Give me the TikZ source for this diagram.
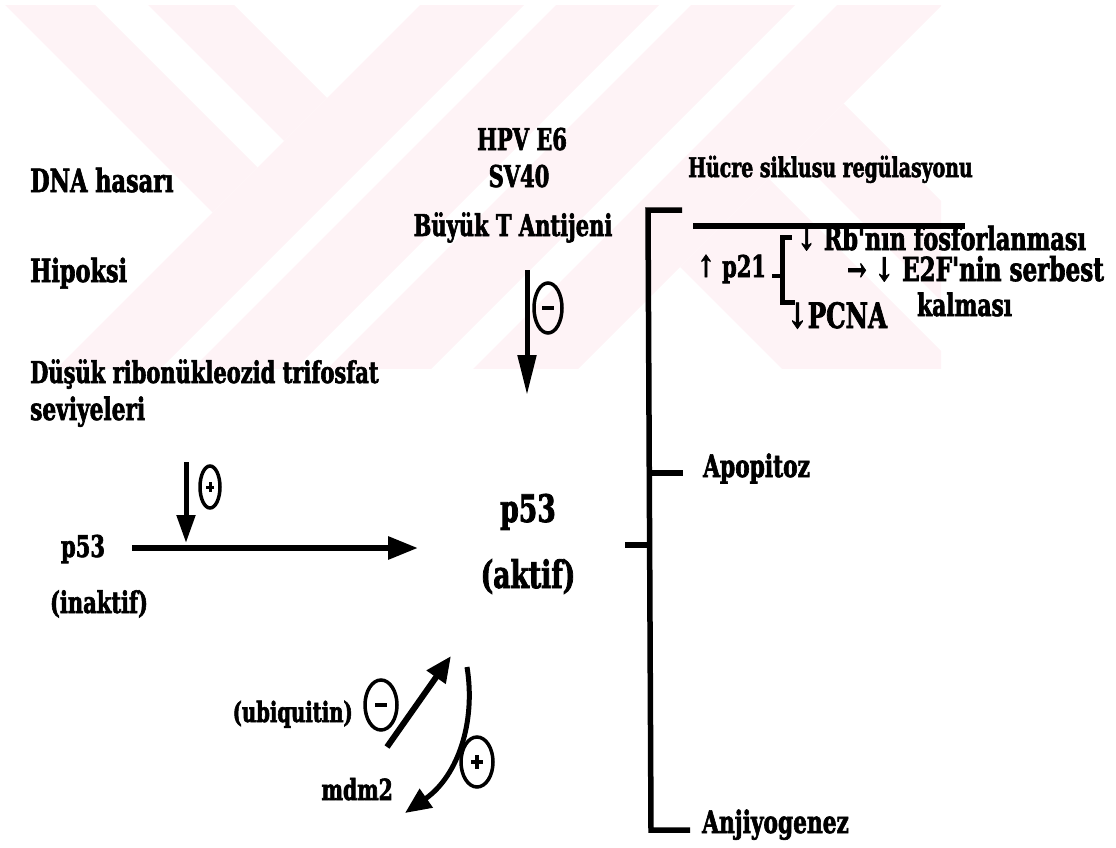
\documentclass[tikz,border=0pt]{standalone}
\usepackage{fontspec}
\setmainfont{DejaVu Serif}[FakeStretch=0.70, Ligatures=TeXOff, BoldFeatures={FakeBold=2}]
\usetikzlibrary{arrows.meta,shapes.geometric}
\definecolor{wm}{RGB}{254,243,246}
\newcommand\sz[1]{\fontsize{#1}{#1}\selectfont\bfseries}
\begin{document}
\begin{tikzpicture}[x=1pt,y=-1pt,
  lab/.style={inner sep=0pt, text=black},
  lw/.style={anchor=base west},
  lc/.style={anchor=base},
  le/.style={anchor=base east},
  sign/.style={draw, ellipse, line width=3.5pt, inner sep=0pt},
  bar/.style={line width=6pt},
  brk/.style={line width=5.5pt},
  arr/.style={line width=6pt, -{Triangle[length=30pt,width=22pt]}},
]
\useasboundingbox (0,0) rectangle (1116,848);
% watermark
\begin{scope}
\clip (0,6) rectangle (941,368);
\fill[wm] (-10,-10) -- (80,-10) -- (257.5,167.5) -- (212.5,212.5) -- cycle;
\fill[wm] (133,-10) -- (219,-10) -- (327,98) -- (284,141) -- cycle;
\foreach \a/\b in {425/529,561/664,696/800,842/947}{
  \fill[wm] (\a+10,-10) -- (\b+10,-10) -- (\b-400,400) -- (\a-400,400) -- cycle;}
\fill[wm] (680,267) -- (768.5,178.5) -- (990,400) -- (813,400) -- cycle;
\fill[wm] (793.5,153.5) -- (843.5,103.5) -- (1140,400) -- (1040,400) -- cycle;
\end{scope}
% left texts
\node[lab,lw,font=\sz{32}] (dna) at (30,192) {DNA hasarı};
\node[lab,lw,font=\sz{32}] (hip) at (30,282) {Hipoksi};
\node[lab,lw,font=\sz{30}] (dus) at (30,383) {Düşük ribonükleozid trifosfat};
\node[lab,lw,font=\sz{31}] (sev) at (30,420) {seviyeleri};
% top texts
\node[lab,lc,font=\sz{30}] (hpv) at (522,150) {HPV E6};
\node[lab,lc,font=\sz{30}] (sv) at (519,187) {SV40};
\node[lab,lc,font=\sz{30}] (buy) at (513,236) {Büyük T Antijeni};
\coordinate (m1s) at (527,270);
\coordinate (m1e) at (527,395);
\draw[line width=5pt, -{Triangle[length=40pt,width=18pt]}] (m1s) -- (m1e);
\node[sign, minimum width=28pt, minimum height=50pt] (neg1) at (548,308) {};
\draw[line width=4.5pt] ([xshift=-6pt]neg1.center) -- ([xshift=6pt]neg1.center);
% p53 conversion
\node[lab,lc,font=\sz{30}] (p53i) at (83,557) {p53};
\node[lab,lc,font=\sz{30}] (inak) at (99,613) {(inaktif)};
\node[lab,lc,font=\sz{38}] (p53a) at (528,522) {p53};
\node[lab,lc,font=\sz{38}] (akt) at (528,588) {(aktif)};
\coordinate (h1s) at (132,548);
\coordinate (h1e) at (418,548);
\draw[arr] (h1s) -- (h1e);
\coordinate (p1s) at (186,462);
\coordinate (p1e) at (186,543);
\draw[line width=5pt, -{Triangle[length=28pt,width=18pt]}] (p1s) -- (p1e);
\node[sign, minimum width=20pt, minimum height=42pt] (pos1) at (210,487) {};
\draw[line width=3pt] ([xshift=-4pt]pos1.center) -- ([xshift=4pt]pos1.center);
\draw[line width=3pt] ([yshift=-5pt]pos1.center) -- ([yshift=5pt]pos1.center);
% mdm2 loop
\node[lab,le,font=\sz{28}] (ubi) at (353,722) {(ubiquitin)};
\node[sign, minimum width=32pt, minimum height=50pt] (neg2) at (381,705) {};
\draw[line width=4.5pt] ([xshift=-6pt]neg2.center) -- ([xshift=6pt]neg2.center);
\coordinate (u1s) at (387,747);
\coordinate (u1e) at (451,656);
\draw[line width=6pt, -{Triangle[length=26pt,width=22pt]}] (u1s) -- (u1e);
\coordinate (c1s) at (467,667);
\coordinate (c1e) at (405,813);
\draw[line width=5pt, -{Triangle[length=26pt,width=22pt]}] (c1s) .. controls (476,722) and (458,776) .. (c1e);
\node[sign, minimum width=32pt, minimum height=50pt] (pos2) at (477,762) {};
\draw[line width=4.5pt] ([xshift=-6pt]pos2.center) -- ([xshift=6pt]pos2.center);
\draw[line width=4.5pt] ([yshift=-7pt]pos2.center) -- ([yshift=7pt]pos2.center);
\node[lab,le,font=\sz{29}] (mdm) at (393,800) {mdm2};
% right bracket
\coordinate (bk1) at (682,210);
\coordinate (bk2) at (648,210);
\coordinate (bk3) at (651,830);
\coordinate (bk4) at (690,830);
\draw[brk] (bk1) -- (bk2) -- (bk3) -- (bk4);
\coordinate (t1a) at (651,473);
\coordinate (t1b) at (683,473);
\draw[bar] (t1a) -- (t1b);
\coordinate (t2a) at (625,545);
\coordinate (t2b) at (650,545);
\draw[bar] (t2a) -- (t2b);
\node[lab,lw,font=\sz{27}] (huc) at (688,177) {Hücre siklusu regülasyonu};
\coordinate (ul1) at (693,226);
\coordinate (ul2) at (965,226);
\draw[bar] (ul1) -- (ul2);
\node[lab,lw,font=\sz{31}] (apo) at (703,477) {Apopitoz};
\node[lab,lw,font=\sz{31}] (anj) at (702,833) {Anjiyogenez};
% p21 block
\node[lab,lw,font=\sz{30}] (p21) at (697,277) {↑ p21};
\coordinate (s1) at (792,237);
\coordinate (s2) at (782,237);
\coordinate (s3) at (782,302);
\coordinate (s4) at (795,302);
\draw[line width=5pt] (s1) -- (s2) -- (s3) -- (s4);
\coordinate (d1) at (772,276);
\coordinate (d2) at (780,276);
\draw[line width=3.5pt] (d1) -- (d2);
\node[lab,lw,font=\sz{32}] (rb) at (797,250) {↓ Rb'nın fosforlanması};
\node[lab,lw,font=\sz{33}] (e2f) at (847,281) {→ ↓ E2F'nin serbest};
\node[lab,lw,font=\sz{31}] (kal) at (917,316) {kalması};
\node[lab,lw,font=\sz{35}] (pcna) at (787,328) {↓PCNA};
\end{tikzpicture}
\end{document}
